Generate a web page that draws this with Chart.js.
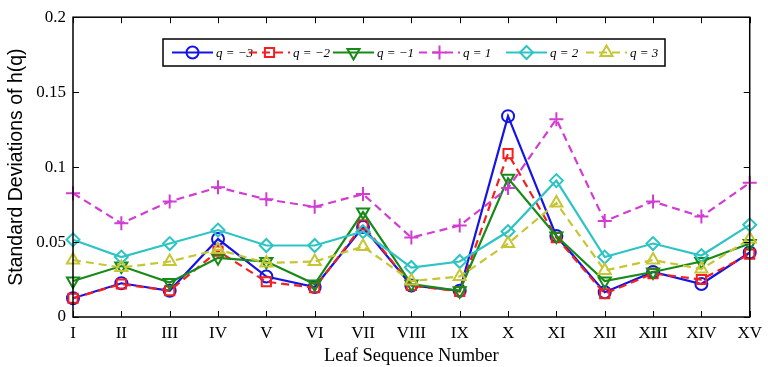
<!DOCTYPE html>
<html>
<head>
<meta charset="utf-8">
<script src="https://cdn.jsdelivr.net/npm/chart.js@4/dist/chart.umd.min.js"></script>
<style>
    html, body { margin: 0; padding: 0; background: #fff; }
    #wrap { width: 768px; height: 367px; position: relative; }
</style>
</head>
<body>
<div id="wrap"><canvas id="chart"></canvas></div>
<script>
// leaf labels and std deviations of h(q)
const leaves = ['I', 'II', 'III', 'IV', 'V', 'VI', 'VII', 'VIII', 'IX', 'X', 'XI', 'XII', 'XIII', 'XIV', 'XV']
const qMinus3 = [0.0125, 0.0225, 0.0175, 0.052, 0.027, 0.020, 0.060, 0.021, 0.0175, 0.134, 0.054, 0.0165, 0.030, 0.022, 0.043]
const qMinus2 = [0.0125, 0.022, 0.0175, 0.044, 0.0235, 0.0195, 0.0615, 0.021, 0.017, 0.109, 0.053, 0.0155, 0.029, 0.025, 0.042]
const qMinus1 = [0.024, 0.034, 0.023, 0.0395, 0.037, 0.022, 0.070, 0.022, 0.0175, 0.0925, 0.054, 0.024, 0.030, 0.037, 0.049]
const qPlus1 = [0.0825, 0.0625, 0.077, 0.0865, 0.0785, 0.0735, 0.082, 0.053, 0.061, 0.086, 0.132, 0.064, 0.077, 0.067, 0.0895]
const qPlus2 = [0.0515, 0.040, 0.049, 0.058, 0.0477, 0.0477, 0.057, 0.033, 0.037, 0.057, 0.091, 0.040, 0.049, 0.041, 0.0615]
const qPlus3 = [0.038, 0.033, 0.037, 0.045, 0.036, 0.037, 0.047, 0.024, 0.027, 0.049, 0.076, 0.031, 0.038, 0.032, 0.052]
const yTicks = [0, 0.05, 0.1, 0.15, 0.2]

const series = [
    { label: '-3', data: qMinus3, color: '#1414e6', style: 'circle', radius: 6, dash: [] },
    { label: '-2', data: qMinus2, color: '#f22020', style: 'rect', radius: 6.5, dash: [8, 5] },
    { label: '-1', data: qMinus1, color: '#178a17', style: 'triangle', radius: 7, dash: [], rotation: 180 },
    { label: '1', data: qPlus1, color: '#d23cd2', style: 'cross', radius: 7, dash: [8, 5] },
    { label: '2', data: qPlus2, color: '#2ec4c4', style: 'rectRot', radius: 6.5, dash: [] },
    { label: '3', data: qPlus3, color: '#c6c634', style: 'triangle', radius: 7, dash: [8, 5] },
]

const datasets = series.map((s, i) => ({
    label: s.label,
    data: s.data,
    borderColor: s.color,
    borderWidth: 2.2,
    borderDash: s.dash,
    pointStyle: s.style,
    pointRadius: s.radius,
    pointRotation: s.rotation || 0,
    pointBorderColor: s.color,
    pointBorderWidth: 2,
    pointBackgroundColor: 'rgba(0,0,0,0)',
    tension: 0,
    fill: false,
    order: series.length - i,
}))

// box round the axes with inward tick marks, matlab style
const boxPlugin = {
    id: 'box',
    afterDatasetsDraw(chart) {
        const { ctx, chartArea: a, scales } = chart
        ctx.save()
        ctx.strokeStyle = '#000'
        ctx.lineWidth = 1.5
        ctx.strokeRect(a.left, a.top, a.right - a.left, a.bottom - a.top)
        ctx.lineWidth = 1
        ctx.beginPath()
        leaves.forEach((l, i) => {
            const x = Math.round(scales.x.getPixelForValue(i)) + 0.5
            ctx.moveTo(x, a.bottom); ctx.lineTo(x, a.bottom - 6)
            ctx.moveTo(x, a.top); ctx.lineTo(x, a.top + 6)
        })
        yTicks.forEach(v => {
            const y = Math.round(scales.y.getPixelForValue(v)) + 0.5
            ctx.moveTo(a.left, y); ctx.lineTo(a.left + 6, y)
            ctx.moveTo(a.right, y); ctx.lineTo(a.right - 6, y)
        })
        ctx.stroke()
        ctx.restore()
    }
}

// legend box with line + marker samples
const legendPlugin = {
    id: 'lineLegend',
    afterDraw(chart) {
        const { ctx } = chart
        const box = { x: 163, y: 39, w: 502, h: 27 }
        const starts = [172, 249, 333, 419, 506, 586]
        const cy = box.y + box.h / 2
        ctx.save()
        ctx.fillStyle = '#fff'
        ctx.fillRect(box.x, box.y, box.w, box.h)
        ctx.strokeStyle = '#000'
        ctx.lineWidth = 1.5
        ctx.strokeRect(box.x, box.y, box.w, box.h)
        series.forEach((s, i) => {
            const x0 = starts[i]
            const x1 = x0 + 41
            ctx.strokeStyle = s.color
            ctx.lineWidth = 2.2
            ctx.setLineDash(s.dash)
            ctx.beginPath()
            ctx.moveTo(x0, cy); ctx.lineTo(x1, cy)
            ctx.stroke()
            ctx.setLineDash([])
            ctx.fillStyle = 'rgba(0,0,0,0)'
            ctx.strokeStyle = s.color
            ctx.lineWidth = 2
            Chart.helpers.drawPoint(ctx, {
                pointStyle: s.style, radius: s.radius, rotation: s.rotation || 0, borderWidth: 2
            }, (x0 + x1) / 2, cy)
            ctx.fillStyle = '#000'
            ctx.font = 'italic 13px "Liberation Serif"'
            ctx.textBaseline = 'middle'
            ctx.fillText('q = ' + s.label.replace('-', '\u2212'), x1 + 3, cy + 1)
        })
        ctx.restore()
    }
}

const tickFont = { family: 'Liberation Serif', size: 17 }

new Chart(document.getElementById('chart'), {
    type: 'line',
    data: { labels: leaves, datasets },
    options: {
        responsive: true,
        maintainAspectRatio: false,
        animation: false,
        layout: { padding: { top: 15, right: 14, left: 0, bottom: 0 } },
        plugins: { legend: { display: false }, tooltip: { enabled: false } },
        scales: {
            x: {
                offset: false,
                grid: { display: false, drawTicks: false },
                border: { display: false },
                ticks: { color: '#000', font: tickFont, padding: 6, maxRotation: 0, autoSkip: false },
                title: { display: true, text: 'Leaf Sequence Number', color: '#000', font: { family: 'Liberation Serif', size: 18.5 }, padding: { top: -2, bottom: 0 } },
                afterFit: s => { s.height = 50 },
            },
            y: {
                min: 0,
                max: 0.2,
                grid: { display: false, drawTicks: false },
                border: { display: false },
                ticks: {
                    color: '#000', font: tickFont, padding: 7, stepSize: 0.05,
                    callback: v => String(+v.toFixed(2)),
                },
                title: { display: true, text: 'Standard Deviations of h(q)', color: '#000', font: { family: 'Liberation Sans', size: 19.5 }, padding: { top: 5, bottom: 0 } },
                afterFit: s => { s.width = 73 },
            },
        },
    },
    plugins: [boxPlugin, legendPlugin],
})
</script>
</body>
</html>
